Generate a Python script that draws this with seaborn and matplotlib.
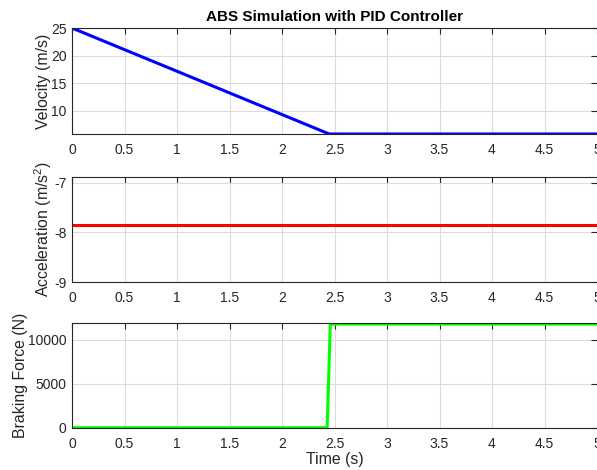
import matplotlib
matplotlib.use("Agg")
import matplotlib.pyplot as plt
import seaborn as sns
import pandas as pd

# Data
vel_t = [0.0, 2.45, 5.0]
vel_v = [25.0, 5.77, 5.77]
acc_t = [0.0, 5.0]
acc_v = [-7.85, -7.85]
force_t = [0.0, 2.43, 2.46, 5.0]
force_v = [0.0, 0.0, 11772.0, 11772.0]

xticks = [0, 0.5, 1, 1.5, 2, 2.5, 3, 3.5, 4, 4.5, 5]
xticklabels = ["0", "0.5", "1", "1.5", "2", "2.5", "3", "3.5", "4", "4.5", "5"]

sns.set_theme(style="whitegrid")
plt.rcParams['font.family'] = ['Liberation Sans', 'DejaVu Sans']
plt.rcParams['mathtext.fontset'] = 'custom'
plt.rcParams['mathtext.rm'] = 'Liberation Sans'
plt.rcParams['mathtext.it'] = 'Liberation Sans'

fig = plt.figure(figsize=(5.97, 4.70), dpi=100)
fig.patch.set_facecolor('white')

W = 525 / 597
L = 72 / 597
axes = [
    fig.add_axes([L, 1 - 134 / 470, W, 106 / 470]),
    fig.add_axes([L, 1 - 282 / 470, W, 105 / 470]),
    fig.add_axes([L, 1 - 427.7 / 470, W, 104.4 / 470]),
]

df_v = pd.DataFrame({"t": vel_t, "v": vel_v})
df_a = pd.DataFrame({"t": acc_t, "a": acc_v})
df_f = pd.DataFrame({"t": force_t, "f": force_v})

sns.lineplot(data=df_v, x="t", y="v", ax=axes[0], color=(0, 0, 1), linewidth=2.2)
sns.lineplot(data=df_a, x="t", y="a", ax=axes[1], color=(1, 0, 0), linewidth=2.2)
sns.lineplot(data=df_f, x="t", y="f", ax=axes[2], color=(0, 1, 0), linewidth=2.2)

axes[0].set_ylim(5.77, 25)
axes[0].set_yticks([10, 15, 20, 25])
axes[0].set_yticklabels(["10", "15", "20", "25"])
axes[1].set_ylim(-9, -6.88)
axes[1].set_yticks([-9, -8, -7])
axes[1].set_yticklabels(["-9", "-8", "-7"])
axes[2].set_ylim(0, 11864)
axes[2].set_yticks([0, 5000, 10000])
axes[2].set_yticklabels(["0", "5000", "10000"])

ylabels = ["Velocity (m/s)", "Acceleration (m/s$^2$)", "Braking Force (N)"]
for ax, yl in zip(axes, ylabels):
    ax.set_facecolor('white')
    ax.set_xlim(0, 5)
    ax.set_xticks(xticks)
    ax.set_xticklabels(xticklabels)
    ax.set_xlabel("")
    ax.set_ylabel(yl, fontsize=11.4, color='#262626', labelpad=0)
    ax.grid(True, color='#dcdcdc', linewidth=0.8)
    ax.tick_params(direction='in', length=4, width=0.8, colors='#262626',
                   labelsize=10, top=True, right=True)
    ax.tick_params(axis='x', pad=6.5)
    ax.tick_params(axis='y', pad=4)
    for s in ax.spines.values():
        s.set_visible(True)
        s.set_color('#262626')
        s.set_linewidth(0.8)
    ax.spines['right'].set_visible(False)

axes[0].set_title("ABS Simulation with PID Controller", fontsize=11,
                  fontweight='bold', color='black', pad=5)
axes[2].set_xlabel("Time (s)", fontsize=11.4, color='#262626', labelpad=1)

fig.savefig("out.png", dpi=100, facecolor='white')
